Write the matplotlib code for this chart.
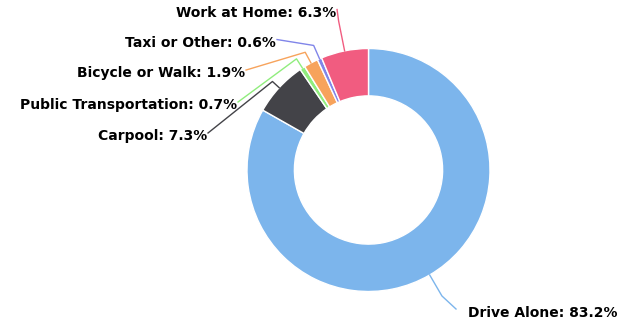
import numpy as np
import matplotlib.pyplot as plt

# commute mode share
modes = ["Drive Alone", "Carpool", "Public Transportation",
         "Bicycle or Walk", "Taxi or Other", "Work at Home"]
shares = [83.2, 7.3, 0.7, 1.9, 0.6, 6.3]
colors = ["#7cb5ec", "#434348", "#90ed7d", "#f7a35c", "#8085e9", "#f15c80"]

# label layout (data units, pie radius = 1)
label_pos = [(0.819, -1.177), (-1.329, 0.280), (-1.082, 0.535),
             (-1.016, 0.798), (-0.761, 1.049), (-0.267, 1.296)]
label_ha = ["left", "right", "right", "right", "right", "right"]
bend_r = [1.2, 1.075, 1.09, 1.1, 1.12, 1.25]

fig = plt.figure(figsize=(6.2, 3.23), dpi=100)
ax = fig.add_axes([0, 0, 1, 1])

wedges, _ = ax.pie(shares, colors=colors, startangle=90, counterclock=False,
                   radius=1.0, wedgeprops=dict(width=0.39, edgecolor="white", linewidth=1))

# center at (368.5, 170) px, radius 121.5 px
ax.set_aspect("auto")
ax.set_xlim(-368.5 / 121.5, (620 - 368.5) / 121.5)
ax.set_ylim(-(323 - 170) / 121.5, 170 / 121.5)
ax.axis("off")

px = 1 / 121.5
cum = np.cumsum([0] + shares)
for i, (mode, val) in enumerate(zip(modes, shares)):
    mid = np.deg2rad((cum[i] + val / 2) / 100 * 360)
    edge = (np.sin(mid), np.cos(mid))
    bend = (bend_r[i] * np.sin(mid), bend_r[i] * np.cos(mid))
    lx, ly = label_pos[i]
    if label_ha[i] == "left":
        end = (lx - 12 * px, ly + 4 * px)
    else:
        end = (lx + 1 * px, ly + 3 * px)
    ax.plot([edge[0], bend[0], end[0]], [edge[1], bend[1], end[1]],
            color=colors[i], lw=1, solid_joinstyle="round")
    ax.text(lx, ly, f"{mode}: {val}%", ha=label_ha[i], va="center",
            fontsize=10, fontweight="bold", color="#000000")

fig.savefig("out.png", dpi=100)
